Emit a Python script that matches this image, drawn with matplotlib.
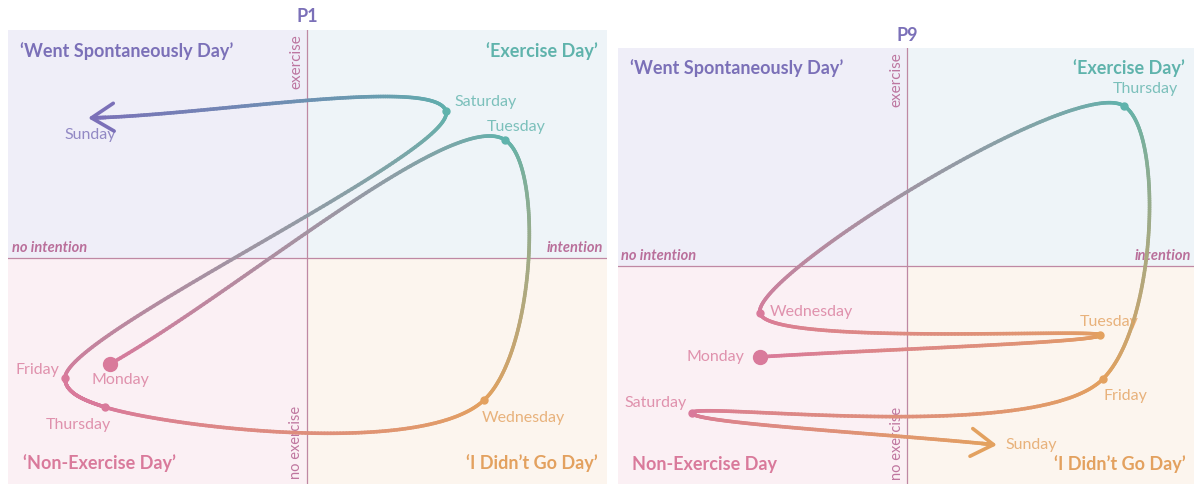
import numpy as np
import matplotlib
matplotlib.use("Agg")
import matplotlib.pyplot as plt
from matplotlib.collections import LineCollection
from matplotlib.colors import to_rgb
from matplotlib.patches import Rectangle

plt.rcParams['font.family'] = ['Lato', 'DejaVu Sans']

# ---- data (x: intention axis, y: exercise axis, both about -1..1) ----
days = ["Monday", "Tuesday", "Wednesday", "Thursday", "Friday", "Saturday", "Sunday"]

p1_x = [-0.657, 0.660, 0.590, -0.673, -0.807, 0.463, -0.730]
p1_y = [-0.465, 0.518, -0.623, -0.654, -0.526, 0.645, 0.614]

p9_x = [-0.509, 0.668, -0.509, 0.751, 0.678, -0.744, 0.311]
p9_y = [-0.417, -0.317, -0.216, 0.734, -0.518, -0.674, -0.821]

panel_titles = ["P1", "P9"]
quad_labels_p1 = ["\u2018Went Spontaneously Day\u2019", "\u2018Exercise Day\u2019",
                  "\u2018Non-Exercise Day\u2019", "\u2018I Didn\u2019t Go Day\u2019"]
quad_labels_p9 = ["\u2018Went Spontaneously Day\u2019", "\u2018Exercise Day\u2019",
                  "Non-Exercise Day", "\u2018I Didn\u2019t Go Day\u2019"]

# colours: top-left, top-right, bottom-left, bottom-right
col_tl, col_tr, col_bl, col_br = "#7b70b8", "#5fb3ac", "#d97a9b", "#e3a15f"
bg_tl, bg_tr, bg_bl, bg_br = "#efeef8", "#eef4f8", "#fbf0f4", "#fcf5ee"
axis_col = "#bf88a4"
axis_txt = "#b0588a"

# label offsets in pixels (dx, dy) from each day point
off_p1 = [(10, -16), (11, 13), (39, -18), (-27, -18), (-28, 8), (40, 9), (2, -17)]
off_p9 = [(-44, 0), (9, 13), (51, 1), (21, 17), (22, -17), (-36, 10), (34, 0)]


def quad_col(x, y):
    if y >= 0:
        return col_tl if x < 0 else col_tr
    return col_bl if x < 0 else col_br


def catmull_rom(P, alpha=0.5, n=150):
    # centripetal catmull-rom in pixel space, ends get a chord/3 tangent
    P = np.asarray(P, float)
    ext = np.vstack([P[0], P, P[-1]])
    t = np.linspace(0, 1, n)[:, None]
    pts, par = [], []
    eps = 1e-12
    for i in range(len(P) - 1):
        p0, p1, p2, p3 = ext[i], ext[i + 1], ext[i + 2], ext[i + 3]
        l01 = np.sum((p1 - p0) ** 2) ** (alpha / 2)
        l12 = np.sum((p2 - p1) ** 2) ** (alpha / 2)
        l23 = np.sum((p3 - p2) ** 2) ** (alpha / 2)
        if l01 > eps:
            a = 2 * l01 ** 2 + 3 * l01 * l12 + l12 ** 2
            c1 = (p1 * a - p0 * l12 ** 2 + p2 * l01 ** 2) / (3 * l01 * (l01 + l12))
        else:
            c1 = p1 + (p2 - p1) / 3
        if l23 > eps:
            b = 2 * l23 ** 2 + 3 * l23 * l12 + l12 ** 2
            c2 = (p2 * b + p1 * l23 ** 2 - p3 * l12 ** 2) / (3 * l23 * (l23 + l12))
        else:
            c2 = p2 - (p2 - p1) / 3
        bz = (1 - t) ** 3 * p1 + 3 * (1 - t) ** 2 * t * c1 + 3 * (1 - t) * t ** 2 * c2 + t ** 3 * p2
        pts.append(bz)
        par.append(i + t[:, 0])
    return np.vstack(pts), np.concatenate(par)


def draw_panel(ax, xs, ys, xlim, ylim, title, quad_labels, offsets):
    x0, x1 = xlim
    y0, y1 = ylim
    ax.set_xlim(x0, x1)
    ax.set_ylim(y0, y1)
    ax.axis("off")
    ax.add_patch(Rectangle((x0, 0), -x0, y1, color=bg_tl, zorder=0))
    ax.add_patch(Rectangle((0, 0), x1, y1, color=bg_tr, zorder=0))
    ax.add_patch(Rectangle((x0, y0), -x0, -y0, color=bg_bl, zorder=0))
    ax.add_patch(Rectangle((0, y0), x1, -y0, color=bg_br, zorder=0))
    ax.axvline(0, color=axis_col, lw=0.9, zorder=1)
    ax.axhline(0, color=axis_col, lw=0.9, zorder=1)

    # axis words
    ax.text(-0.012, y1 - 0.02, "exercise", rotation=90, ha="right", va="top",
            color=axis_txt, fontsize=11, alpha=0.8)
    ax.text(-0.012, y0 + 0.02, "no exercise", rotation=90, ha="right", va="bottom",
            color=axis_txt, fontsize=10.5, alpha=0.8)
    ax.text(x0 + 0.012, 0.015, "no intention", ha="left", va="bottom",
            color=axis_txt, fontsize=10.5, style="italic", fontweight="bold", alpha=0.85)
    ax.text(x1 - 0.012, 0.015, "intention", ha="right", va="bottom",
            color=axis_txt, fontsize=10.5, style="italic", fontweight="bold", alpha=0.85)

    # quadrant titles
    kw = dict(fontsize=13, fontweight="bold")
    ax.text(x0 + 0.04, y1 - 0.09, quad_labels[0], ha="left", va="center", color=col_tl, **kw)
    ax.text(x1 - 0.03, y1 - 0.09, quad_labels[1], ha="right", va="center", color=col_tr, **kw)
    ax.text(x0 + 0.05, y0 + 0.09, quad_labels[2], ha="left", va="center", color=col_bl, **kw)
    ax.text(x1 - 0.03, y0 + 0.09, quad_labels[3], ha="right", va="center", color=col_br, **kw)

    ax.text(0, 1.01, title, transform=ax.get_xaxis_transform(), ha="center", va="bottom",
            color=col_tl, fontsize=13, fontweight="bold", clip_on=False)

    # gradient curve, built in pixel space then mapped back to data
    cols = np.array([to_rgb(quad_col(x, y)) for x, y in zip(xs, ys)])
    pix = ax.transData.transform(np.column_stack([xs, ys]))
    ppix, par = catmull_rom(pix)
    pts = ax.transData.inverted().transform(ppix)
    i = np.minimum(par.astype(int), len(xs) - 2)
    f = (par - i)[:, None]
    c = cols[i] * (1 - f) + cols[i + 1] * f
    segs = np.stack([pts[:-1], pts[1:]], axis=1)
    seg_c = (c[:-1] + c[1:]) / 2
    lc = LineCollection(segs[:-3], colors=seg_c[:-3], linewidths=2.6, capstyle="round", zorder=3)
    ax.add_collection(lc)

    # arrow head at the end (Sunday)
    ax.annotate("", xy=(xs[-1], ys[-1]), xytext=tuple(pts[-8]),
                arrowprops=dict(arrowstyle="->,head_length=0.8,head_width=0.5",
                                color=cols[-1], lw=2.6, mutation_scale=20,
                                shrinkA=0, shrinkB=0), zorder=4)

    # day dots and labels
    for k, (x, y) in enumerate(zip(xs, ys)):
        if k == 0:
            ax.plot(x, y, "o", color=cols[k], ms=10, zorder=5)
        elif k < len(xs) - 1:
            ax.plot(x, y, "o", color=cols[k], ms=5, zorder=5)
        ax.annotate(days[k], (x, y), xytext=offsets[k], textcoords="offset pixels",
                    ha="center", va="center", color=cols[k], alpha=0.8, fontsize=11.5, zorder=6)


fig = plt.figure(figsize=(11.96, 4.84), dpi=100)
W, H = 1196, 484

ax1 = fig.add_axes([8 / W, 0, 599 / W, 454 / H])
draw_panel(ax1, p1_x, p1_y, (-0.997, 1.0), (-0.991, 1.0), panel_titles[0],
           quad_labels_p1, off_p1)

ax2 = fig.add_axes([618 / W, 0, 576 / W, 436 / H])
draw_panel(ax2, p9_x, p9_y, (-1.0, 0.993), (-1.0, 1.0), panel_titles[1],
           quad_labels_p9, off_p9)

fig.savefig("out.png", dpi=100, facecolor="white")
